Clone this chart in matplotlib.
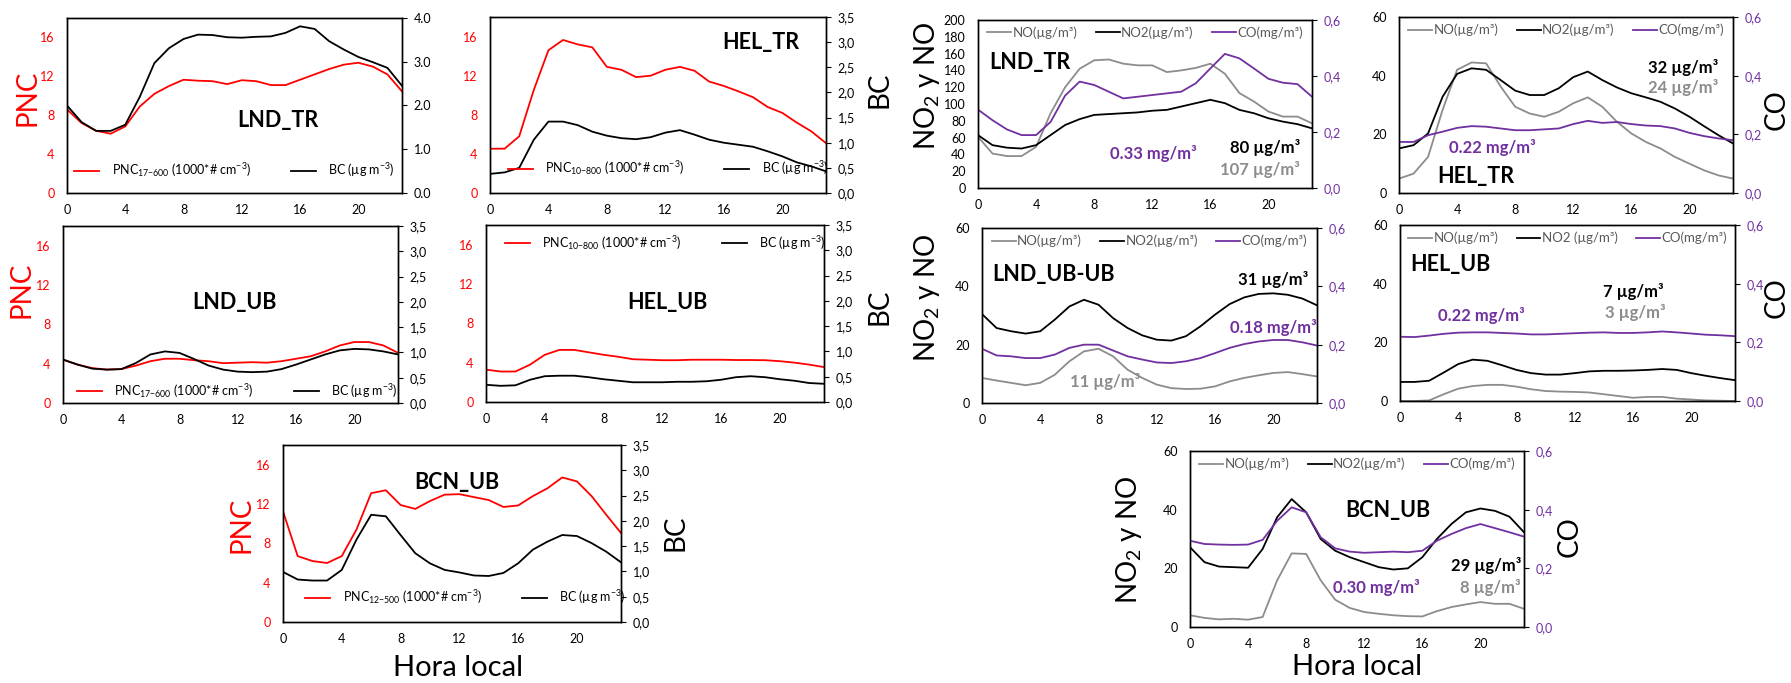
import matplotlib
matplotlib.use("Agg")
import matplotlib.pyplot as plt
from matplotlib.ticker import FuncFormatter, MultipleLocator

plt.rcParams['font.family'] = ['Lato', 'DejaVu Sans']
plt.rcParams['mathtext.default'] = 'regular'

W, H = 1791, 683
hours = list(range(24))

# ---- PNC / BC panels ----
pnc_lnd_tr = [8.6, 7.2, 6.4, 6.1, 6.85, 8.9, 10.2, 11.0, 11.65, 11.55, 11.5, 11.2,
              11.6, 11.5, 11.1, 11.1, 11.65, 12.2, 12.75, 13.2, 13.4, 13.0, 12.2, 10.45]
bc_lnd_tr = [2.0, 1.62, 1.42, 1.42, 1.56, 2.2, 2.97, 3.31, 3.52, 3.62, 3.61, 3.56,
             3.55, 3.57, 3.58, 3.66, 3.81, 3.75, 3.47, 3.28, 3.11, 2.99, 2.86, 2.45]
pnc_hel_tr = [4.53, 4.53, 5.8, 10.55, 14.6, 15.65, 15.2, 14.9, 12.9, 12.6, 11.85, 12.0,
              12.6, 12.9, 12.5, 11.4, 10.95, 10.4, 9.8, 8.8, 8.2, 7.2, 6.3, 5.1]
bc_hel_tr = [0.38, 0.41, 0.5, 1.06, 1.42, 1.42, 1.35, 1.22, 1.14, 1.09, 1.07, 1.11,
             1.2, 1.25, 1.16, 1.06, 1.0, 0.96, 0.92, 0.83, 0.73, 0.61, 0.53, 0.43]
pnc_lnd_ub = [4.4, 3.9, 3.55, 3.4, 3.45, 3.8, 4.25, 4.5, 4.5, 4.35, 4.25, 4.05,
              4.1, 4.15, 4.1, 4.25, 4.5, 4.75, 5.25, 5.85, 6.2, 6.2, 5.85, 5.1]
bc_lnd_ub = [0.86, 0.76, 0.68, 0.66, 0.67, 0.79, 0.96, 1.02, 0.99, 0.87, 0.74, 0.66,
             0.62, 0.61, 0.62, 0.67, 0.76, 0.86, 0.96, 1.04, 1.07, 1.06, 1.02, 0.96]
pnc_hel_ub = [3.29, 3.1, 3.1, 3.8, 4.8, 5.3, 5.3, 5.05, 4.8, 4.6, 4.35, 4.3,
              4.25, 4.25, 4.3, 4.3, 4.3, 4.27, 4.27, 4.25, 4.15, 4.0, 3.8, 3.55]
bc_hel_ub = [0.34, 0.32, 0.33, 0.44, 0.51, 0.52, 0.52, 0.49, 0.45, 0.42, 0.39, 0.39,
             0.39, 0.4, 0.4, 0.41, 0.44, 0.49, 0.51, 0.49, 0.45, 0.42, 0.375, 0.36]
pnc_bcn_ub = [11.25, 6.7, 6.2, 6.0, 6.7, 9.4, 13.1, 13.4, 11.9, 11.5, 12.3, 12.95,
              13.0, 12.7, 12.4, 11.7, 11.85, 12.8, 13.6, 14.7, 14.3, 12.8, 10.9, 9.05]
bc_bcn_ub = [0.99, 0.84, 0.82, 0.82, 1.03, 1.63, 2.12, 2.09, 1.72, 1.36, 1.16, 1.03,
             0.98, 0.92, 0.91, 0.97, 1.16, 1.43, 1.59, 1.72, 1.70, 1.56, 1.39, 1.18]

# ---- NO / NO2 / CO panels ----
no_lnd_tr = [61, 41, 38, 38, 49, 89, 120, 142, 152, 153, 148, 146,
             146, 138, 140, 143, 148, 136, 113, 103, 91, 85, 85, 77]
no2_lnd_tr = [63, 51, 48, 47, 51, 63, 75, 82, 87, 88, 89, 90,
              92, 93, 97, 101, 105, 101, 93, 89, 83, 79, 76, 71]
co_lnd_tr = [0.28, 0.242, 0.209, 0.189, 0.189, 0.236, 0.33, 0.38, 0.368, 0.344, 0.32, 0.326,
             0.332, 0.338, 0.344, 0.374, 0.427, 0.479, 0.463, 0.427, 0.39, 0.376, 0.371, 0.326]
no_hel_tr = [4.9, 6.6, 12.3, 28.3, 42, 44.5, 44.2, 36.3, 29.4, 27.1, 26, 27.7,
             30.6, 32.6, 29.4, 24.3, 20.3, 17.4, 15.2, 12.3, 10, 7.75, 6, 4.9]
no2_hel_tr = [15.2, 16.3, 20.3, 32.8, 40.6, 42.5, 42, 38.5, 34.9, 33.4, 33.4, 35.7,
              39.5, 41.4, 38.5, 36, 34, 32.6, 31.1, 28.8, 26, 22.8, 19.7, 16.9]
co_hel_tr = [0.174, 0.174, 0.197, 0.209, 0.222, 0.228, 0.226, 0.22, 0.214, 0.214, 0.217, 0.22,
             0.235, 0.246, 0.239, 0.242, 0.235, 0.23, 0.228, 0.22, 0.205, 0.194, 0.186, 0.18]
no_lnd_ub = [8.6, 7.7, 6.9, 6.1, 6.9, 9.7, 14.3, 17.7, 18.6, 16, 11.4, 8.6,
             6.3, 5.1, 4.8, 4.9, 5.7, 7.4, 8.6, 9.5, 10.3, 10.6, 9.9, 9.1]
no2_lnd_ub = [30.5, 25.7, 24.6, 23.8, 24.6, 28.6, 33.1, 35.4, 33.7, 29.1, 25.7, 23.2,
              21.7, 21.4, 22.9, 26.3, 30.3, 33.9, 36.2, 37.4, 37.6, 37.1, 35.8, 33.5]
co_lnd_ub = [0.186, 0.163, 0.16, 0.154, 0.154, 0.166, 0.189, 0.2, 0.2, 0.18, 0.16, 0.149,
             0.139, 0.137, 0.143, 0.154, 0.171, 0.189, 0.202, 0.211, 0.216, 0.216, 0.208, 0.197]
no_hel_ub = [0, 0, 0.2, 2.3, 4.2, 5.1, 5.5, 5.5, 4.9, 4, 3.4, 3.2,
             3.1, 2.9, 2.3, 1.7, 1.1, 1.4, 1.4, 0.8, 0.5, 0.2, 0.1, 0]
no2_hel_ub = [6.5, 6.5, 6.9, 9.7, 12.6, 14.1, 13.7, 12.2, 10.6, 9.5, 9, 9,
              9.5, 10.1, 10.3, 10.3, 10.4, 10.6, 10.9, 10.6, 9.5, 8.6, 7.8, 7.1]
co_hel_ub = [0.219, 0.218, 0.223, 0.229, 0.233, 0.234, 0.234, 0.232, 0.23, 0.227, 0.227, 0.229,
             0.231, 0.233, 0.234, 0.232, 0.232, 0.234, 0.237, 0.234, 0.23, 0.226, 0.224, 0.221]
no_bcn_ub = [4, 3.1, 2.6, 2.8, 2.5, 3.4, 15.9, 25.1, 24.9, 15.9, 9.3, 6.5,
             5.1, 4.5, 4, 3.7, 3.6, 5.4, 6.8, 7.7, 8.5, 7.9, 7.9, 6.2]
no2_bcn_ub = [27.2, 22.1, 20.6, 20.4, 20.2, 26.6, 37.4, 43.6, 39.1, 30, 26, 23.8,
              22.1, 20.4, 19.6, 20.0, 23.8, 30, 35.1, 39.1, 40.4, 39.6, 37.6, 32.3]
co_bcn_ub = [0.294, 0.283, 0.281, 0.28, 0.281, 0.297, 0.362, 0.408, 0.391, 0.306, 0.268, 0.257,
             0.253, 0.255, 0.257, 0.255, 0.26, 0.294, 0.317, 0.337, 0.351, 0.337, 0.323, 0.308]

RED = '#FF0000'
PURPLE = '#7030A0'
GRAY = '#8C8C8C'
LEGTXT = '#595959'
TICK = 9

fig = plt.figure(figsize=(W / 100, H / 100), dpi=100)


def rect(l, t, r, b):
    return [l / W, 1 - b / H, (r - l) / W, (b - t) / H]


def ftext(x, y, s, **kw):
    fig.text(x / W, 1 - y / H, s, **kw)


def comma_fmt(dec):
    return FuncFormatter(lambda v, p: f"{v:.{dec}f}".replace('.', ','))


def base_axes(box, ymax, ystep, lcolor, rmax, rstep, rfmt, rcolor):
    ax = fig.add_axes(rect(*box))
    ax2 = ax.twinx()
    ax.set_xlim(0, 23)
    ax.set_xticks(range(0, 24, 4))
    ax.set_ylim(0, ymax)
    ax.yaxis.set_major_locator(MultipleLocator(ystep))
    ax2.set_ylim(0, rmax)
    ax2.yaxis.set_major_locator(MultipleLocator(rstep))
    ax2.yaxis.set_major_formatter(rfmt)
    ax.tick_params(axis='x', length=0, pad=8, labelsize=TICK)
    ax.tick_params(axis='y', length=0, pad=9, labelsize=TICK, labelcolor=lcolor)
    ax2.tick_params(axis='y', length=3.5, pad=5, labelsize=TICK, labelcolor=rcolor)
    for a in (ax, ax2):
        for s in a.spines.values():
            s.set_linewidth(1.0)
    return ax, ax2


def pnc_panel(box, pnc, bc, bcmax, bcstep, rfmt, sub, leg_xy):
    ax, ax2 = base_axes(box, 18, 4, RED, bcmax, bcstep, rfmt, 'black')
    l1, = ax.plot(hours, pnc, color=RED, lw=1.3,
                  label='PNC$_{' + sub + '}$ (1000*# cm$^{-3}$)')
    l2, = ax2.plot(hours, bc, color='black', lw=1.3, label='BC (µg m$^{-3}$)')
    ax2.legend(handles=[l1, l2], ncol=2, loc='center', bbox_to_anchor=leg_xy,
               frameon=False, fontsize=9, handlelength=2.0, handletextpad=1.0,
               columnspacing=3.2)
    return ax, ax2


def gas_panel(box, no, no2, co, ymax, no2_label='NO2(µg/m³)'):
    ax, ax2 = base_axes(box, ymax, 20, 'black', 0.6, 0.2, comma_fmt(1), PURPLE)
    l1, = ax.plot(hours, no, color=GRAY, lw=1.3, label='NO(µg/m³)')
    l2, = ax.plot(hours, no2, color='black', lw=1.3, label=no2_label)
    l3, = ax2.plot(hours, co, color=PURPLE, lw=1.3, label='CO(mg/m³)')
    leg = ax2.legend(handles=[l1, l2, l3], ncol=3, loc='center',
                     bbox_to_anchor=(0.5, 0.925), frameon=False, fontsize=9.5,
                     handlelength=1.8, handletextpad=0.1, columnspacing=1.4)
    for t in leg.get_texts():
        t.set_color(LEGTXT)
    return ax, ax2


# left block
pnc_panel((67, 18, 402, 193), pnc_lnd_tr, bc_lnd_tr, 4, 1,
          FuncFormatter(lambda v, p: f"{v:.1f}"), '17{-}600', (0.5, 0.13))
pnc_panel((490, 17, 826, 193), pnc_hel_tr, bc_hel_tr, 3.5, 0.5, comma_fmt(1),
          '10{-}800', (0.53, 0.14))
pnc_panel((63, 226, 398, 403), pnc_lnd_ub, bc_lnd_ub, 3.5, 0.5, comma_fmt(1),
          '17{-}600', (0.52, 0.07))
pnc_panel((486, 225, 824, 402), pnc_hel_ub, bc_hel_ub, 3.5, 0.5, comma_fmt(1),
          '10{-}800', (0.53, 0.9))
pnc_panel((283, 445, 621, 622), pnc_bcn_ub, bc_bcn_ub, 3.5, 0.5, comma_fmt(1),
          '12{-}500', (0.54, 0.14))

# right block
gas_panel((978, 20, 1312, 188), no_lnd_tr, no2_lnd_tr, co_lnd_tr, 200)
gas_panel((1399, 17, 1733, 193), no_hel_tr, no2_hel_tr, co_hel_tr, 60)
gas_panel((982, 228, 1317, 403), no_lnd_ub, no2_lnd_ub, co_lnd_ub, 60)
gas_panel((1400, 225, 1735, 401), no_hel_ub, no2_hel_ub, co_hel_ub, 60,
          no2_label='NO2 (µg/m³)')
gas_panel((1190, 451, 1524, 627), no_bcn_ub, no2_bcn_ub, co_bcn_ub, 60)

# axis titles
ylab = dict(rotation=90, ha='center', va='center', fontsize=20)
ftext(27, 98, 'PNC', color=RED, **ylab)
ftext(22, 290, 'PNC', color=RED, **ylab)
ftext(242, 525, 'PNC', color=RED, **ylab)
ftext(880, 90, 'BC', **ylab)
ftext(880, 307, 'BC', **ylab)
ftext(675, 533, 'BC', **ylab)
ftext(927, 86, 'NO$_2$ y NO', **ylab)
ftext(927, 298, 'NO$_2$ y NO', **ylab)
ftext(1129, 540, 'NO$_2$ y NO', **ylab)
ftext(1777, 110, 'CO', **ylab)
ftext(1777, 298, 'CO', **ylab)
ftext(1570, 537, 'CO', **ylab)
ftext(458, 668, 'Hora local', ha='center', va='center', fontsize=21)
ftext(1357, 667, 'Hora local', ha='center', va='center', fontsize=21)

# site names
st = dict(fontsize=15.5, fontweight='bold', va='center', ha='left')
ftext(237, 120, 'LND_TR', **st)
ftext(722, 42, 'HEL_TR', **st)
ftext(192, 303, 'LND_UB', **st)
ftext(627, 303, 'HEL_UB', **st)
ftext(414, 482, 'BCN_UB', **st)
ftext(989, 63, 'LND_TR', **st)
ftext(1437, 177, 'HEL_TR', **st)
ftext(992, 275, 'LND_UB-UB', **st)
ftext(1410, 265, 'HEL_UB', **st)
ftext(1345, 510, 'BCN_UB', **st)

# mean values
mv = dict(fontsize=12, fontweight='bold', va='center')
ftext(1110, 153, '0.33 mg/m³', color=PURPLE, ha='left', **mv)
ftext(1300, 148, '80 µg/m³', color='black', ha='right', **mv)
ftext(1300, 170, '107 µg/m³', color=GRAY, ha='right', **mv)
ftext(1718, 67, '32 µg/m³', color='black', ha='right', **mv)
ftext(1718, 88, '24 µg/m³', color=GRAY, ha='right', **mv)
ftext(1449, 147, '0.22 mg/m³', color=PURPLE, ha='left', **mv)
ftext(1308, 280, '31 µg/m³', color='black', ha='right', **mv)
ftext(1317, 328, '0.18 mg/m³', color=PURPLE, ha='right', **mv)
ftext(1070, 382, '11 µg/m³', color=GRAY, ha='left', **mv)
ftext(1633, 292, '7 µg/m³', color='black', ha='center', **mv)
ftext(1635, 313, '3 µg/m³', color=GRAY, ha='center', **mv)
ftext(1438, 315, '0.22 mg/m³', color=PURPLE, ha='left', **mv)
ftext(1521, 566, '29 µg/m³', color='black', ha='right', **mv)
ftext(1521, 587, '8 µg/m³', color=GRAY, ha='right', **mv)
ftext(1333, 587, '0.30 mg/m³', color=PURPLE, ha='left', **mv)

fig.savefig("out.png", dpi=100, facecolor='white')
